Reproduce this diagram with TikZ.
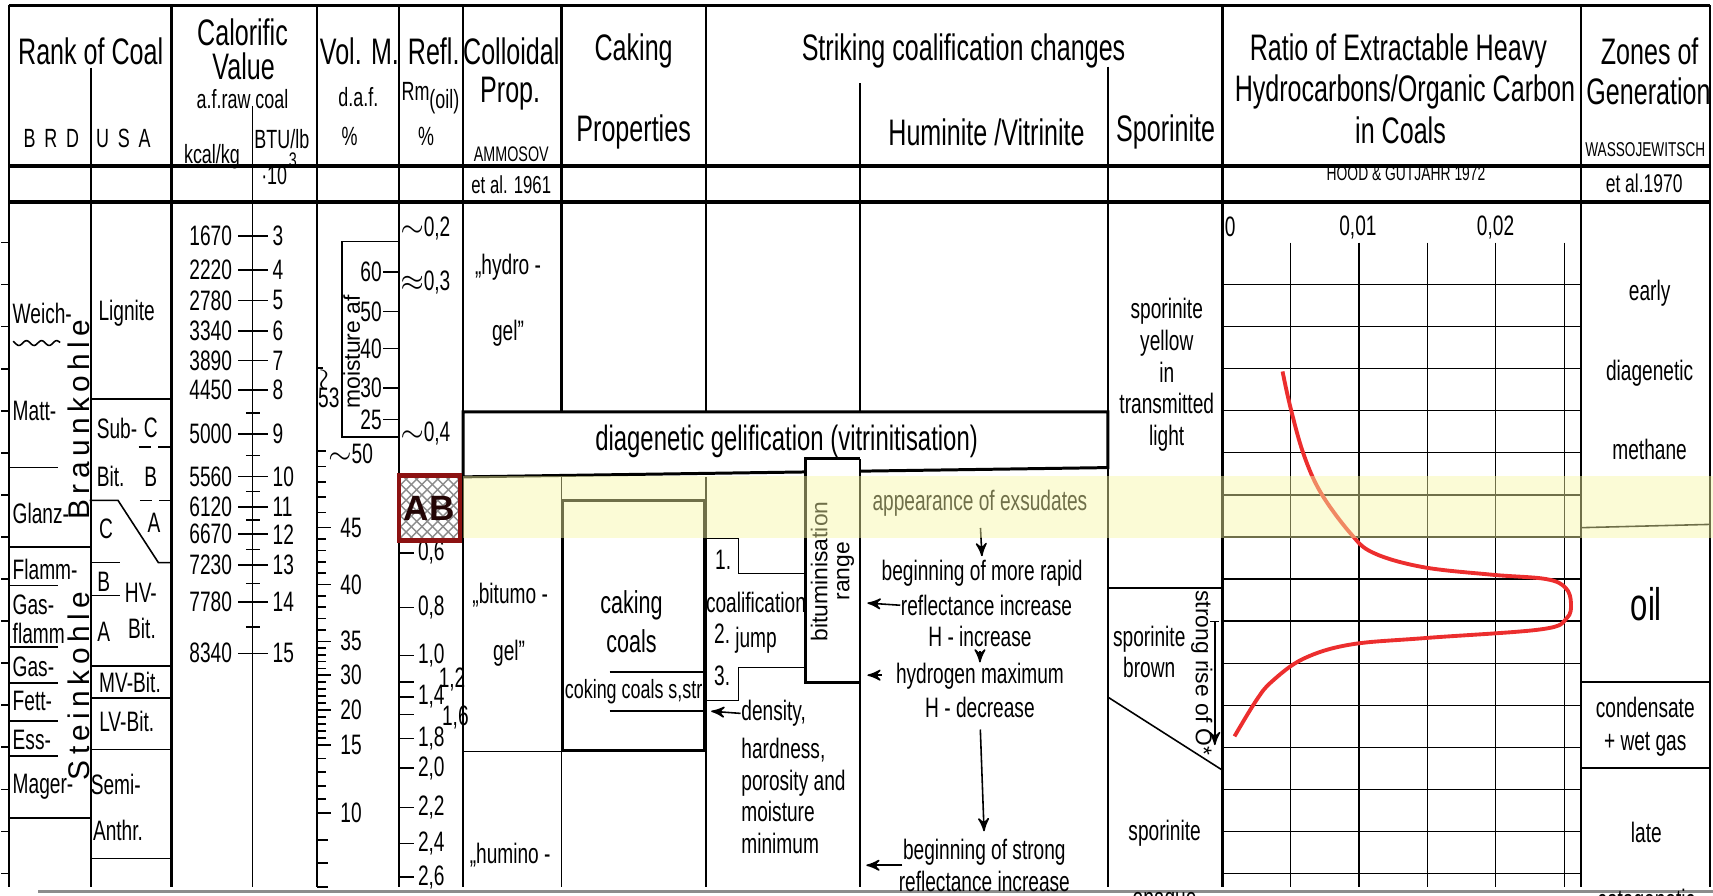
\documentclass[tikz,border=0pt]{standalone}
\usepackage{fontspec}
\setmainfont{Liberation Sans}[FakeStretch=0.68]
\newfontfamily\plainsf{Liberation Sans}
\newfontfamily\spacedsf{Liberation Sans}[LetterSpace=18]
\usetikzlibrary{arrows,positioning,patterns}

\definecolor{abred}{RGB}{140,18,18}
\definecolor{bandyellow}{RGB}{247,247,164}
\definecolor{curvered}{RGB}{236,46,46}

\begin{document}
\begin{tikzpicture}[x=0.10925mm, y=-0.10925mm, >=stealth',
    hdrtext/.style={font=\fontsize{10.5}{12}\selectfont, inner sep=0pt},
    bodytext/.style={font=\fontsize{8}{9}\selectfont, inner sep=0pt},
    smalltext/.style={font=\fontsize{7.5}{8}\selectfont, inner sep=0pt},
    tinytext/.style={font=\fontsize{6}{7}\selectfont, inner sep=0pt},
    rottext/.style={font=\plainsf\fontsize{6.5}{6.2}\selectfont, inner sep=0pt},
    frameline/.style={line width=1.1pt},
    colline/.style={line width=0.6pt},
    thinline/.style={line width=0.45pt},
    gridline/.style={line width=0.35pt},
    boxline/.style={line width=0.85pt},
    abbox/.style={draw=abred, line width=1.15pt, pattern=crosshatch, pattern color=black!45,
      minimum width=6.1mm, minimum height=6.5mm, inner sep=0pt,
      font=\plainsf\bfseries\fontsize{10}{10}\selectfont, text=black!75!abred}]

\useasboundingbox (0,0) rectangle (1568,820);

% boxes with white fill first
\draw[boxline, fill=white] (424,377) -- (1014,377) -- (1014,428) -- (424,436.5) -- cycle;
\draw[boxline, fill=white] (787,420) -- (737,420) -- (737,625) -- (787,625);
\draw[boxline] (515,458) rectangle (645,687);

% frame and columns
\draw[frameline] (8,5) -- (1565,5);
\draw[frameline] (8,152) -- (1565,152);
\draw[frameline] (8,185) -- (1565,185);
\foreach \xx in {8,157,290,365,424,1119,1447,1565}
  \draw[colline] (\xx,5) -- (\xx,812);
\draw[colline] (83,62) -- (83,812);
\draw[thinline] (231,97) -- (231,812);
\draw[colline] (514,5) -- (514,377) (646,5) -- (646,377) (787,76) -- (787,377) (1014,61) -- (1014,812);
\draw[thinline] (514,437) -- (514,812) (646,437) -- (646,812);
\draw[colline] (787,420) -- (787,812);
\foreach \k in {0,...,15}
  \draw[thinline] (1,{222+38.5*\k}) -- (8,{222+38.5*\k});
\draw[black!45, line width=0.9pt] (35,816) -- (1568,816);

% header
\node[hdrtext] (rank) at (83,47) {Rank of Coal};
\node[smalltext] (brd) at (47,127) {B\,\,R\,\,D};
\node[smalltext] (usa) at (113,127) {U\,\,S\,\,A};
\node[hdrtext] (calor) at (222,30) {Calorific};
\node[hdrtext] (value) at (223,61) {Value};
\node[smalltext] (afraw) at (222,91) {a.f.raw coal};
\node[smalltext] (kcal) at (194,143) {kcal/kg};
\node[smalltext] (btu) at (258,127) {BTU/lb};
\node[smalltext] (ten) at (251,161) {·10};
\node[tinytext] (three) at (268,147) {3};
\node[hdrtext] (volm) at (329,47) {Vol. M.};
\node[smalltext] (daf) at (328,89) {d.a.f.};
\node[smalltext] (pctv) at (320,125) {\%};
\node[hdrtext] (refl) at (397,47) {Refl.};
\node[smalltext] (rm) at (394,90) {Rm\raisebox{-0.6ex}{(oil)}};
\node[smalltext] (pctr) at (390,125) {\%};
\node[hdrtext] (colloid) at (468,47) {Colloidal};
\node[hdrtext] (prop) at (467,86) {Prop.};
\node[tinytext] (ammosov) at (468,141) {AMMOSOV};
\node[font=\fontsize{7}{8}\selectfont, inner sep=0pt] (etal61) at (468,169) {et al. 1961};
\node[hdrtext] (caking) at (580,47) {Caking};
\node[hdrtext] (props) at (580,121) {Properties};
\node[hdrtext] (striking) at (882,47) {Striking coalification changes};
\node[hdrtext] (humvit) at (903,121) {Huminite /Vitrinite};
\node[hdrtext] (spor) at (1067,121) {Sporinite};
\node[hdrtext] (ratioa) at (1280,47) {Ratio of Extractable Heavy};
\node[hdrtext] (ratiob) at (1286,84) {Hydrocarbons/Organic Carbon};
\node[hdrtext] (ratioc) at (1282,119) {in Coals};
\node[font=\fontsize{5.8}{6}\selectfont, inner sep=0pt] (hood) at (1287,159) {HOOD \& GUTJAHR 1972};
\node[hdrtext] (zones) at (1510,47) {Zones of};
\node[hdrtext] (gener) at (1509,84) {Generation};
\node[font=\fontsize{5.7}{6}\selectfont, inner sep=0pt] (wasso) at (1506,137) {WASSOJEWITSCH};
\node[font=\fontsize{7.3}{8}\selectfont, inner sep=0pt] (etal70) at (1505,168) {et al.1970};

% rank of coal, BRD
\node[bodytext, anchor=west] (weich) at (11,287) {Weich-};
\draw[thinline] plot[domain=12:55, samples=50] (\x,{314+2.2*sin(\x*26)});
\node[bodytext, anchor=west] (matt) at (11,376) {Matt-};
\draw[thinline] (8,428) -- (53,428);
\node[bodytext, anchor=west] (glanz) at (11,470) {Glanz-};
\draw[colline] (8,501) -- (83,501);
\node[bodytext, anchor=west] (flamma) at (11,521) {Flamm-};
\node[bodytext, anchor=west] (gasa) at (11,554) {Gas-};
\node[bodytext, anchor=west] (flammb) at (11,580) {flamm};
\node[bodytext, anchor=west] (gasb) at (11,610) {Gas-};
\node[bodytext, anchor=west] (fett) at (11,642) {Fett-};
\node[bodytext, anchor=west] (ess) at (11,677) {Ess-};
\node[bodytext, anchor=west] (mager) at (11,720) {Mager-};
\foreach \yy in {536,592,625,660,692}
  \draw[thinline] (8,\yy) -- (53,\yy);
\draw[colline] (8,749) -- (83,749);
\node[font=\spacedsf\fontsize{8.5}{9}\selectfont, rotate=90, inner sep=0pt] (braun) at (72,384) {Braunkohle};
\node[font=\spacedsf\fontsize{8.5}{9}\selectfont, rotate=90, inner sep=0pt] (stein) at (72,628) {Steinkohle};

% rank of coal, USA
\node[bodytext] (lignite) at (116,287) {Lignite};
\draw[thinline] (83,365) -- (157,365);
\node[bodytext, anchor=west] (sub) at (88,392) {Sub-};
\node[bodytext] (subc) at (138,392) {C};
\draw[thinline, dash pattern=on 3.5pt off 2pt] (127,409) -- (157,409);
\node[bodytext, anchor=west] (bita) at (88,436) {Bit.};
\node[bodytext] (bitb) at (138,436) {B};
\draw[thinline, dash pattern=on 3.5pt off 2pt] (128,458) -- (157,458);
\draw[thinline] (82,458) -- (108,458) -- (145,515) -- (157,515);
\node[bodytext] (hvc) at (97,484) {C};
\node[bodytext] (suba) at (141,479) {A};
\draw[thinline] (83,515) -- (110,515);
\node[bodytext] (hvb) at (95,533) {B};
\node[bodytext] (hv) at (129,543) {HV-};
\draw[thinline] (83,545) -- (110,545);
\node[bodytext] (hva) at (95,578) {A};
\node[bodytext] (hvbit) at (130,575) {Bit.};
\draw[colline] (83,610) -- (157,610);
\node[bodytext] (mv) at (119,625) {MV-Bit.};
\draw[thinline] (83,639) -- (157,639);
\node[bodytext] (lv) at (116,660) {LV-Bit.};
\draw[thinline] (83,686) -- (157,686);
\node[bodytext] (semi) at (106,718) {Semi-};
\node[bodytext] (anthr) at (108,760) {Anthr.};
\draw[thinline] (83,786) -- (157,786);

% calorific value scale
\foreach \kc/\bt/\yy in {1670/3/216, 2220/4/247, 2780/5/275, 3340/6/303, 3890/7/330, 4450/8/357,
    5000/9/397, 5560/10/436, 6120/11/464, 6670/12/489, 7230/13/517, 7780/14/551, 8340/15/598} {
  \draw[thinline] (218,\yy) -- (245,\yy);
  \node[bodytext, anchor=east] (kc\bt) at (213,\yy) {\kc};
  \node[bodytext, anchor=west] (bt\bt) at (249,\yy) {\bt};
}
\foreach \yy in {378,417,450,476,503,534,574}
  \draw[thinline] (225,\yy) -- (238,\yy);

% volatile matter scale
\draw[thinline] (290,337) -- (296,337);
\node[bodytext, rotate=90] (vtil) at (298,348) {$\sim$};
\node[bodytext] (v53) at (301,364) {53};
\draw[thinline] (290,413) -- (298,413);
\node[bodytext, anchor=west] (v50) at (300,415) {$\sim$50};
\foreach \vm/\yy in {45/483,40/535,35/587,30/618,20/650,15/682,10/744} {
  \draw[thinline] (290,\yy) -- (303,\yy);
  \node[bodytext, anchor=west] (vm\vm) at (311,\yy) {\vm};
}
\foreach \ya/\yb in {413/483,483/535,535/587,587/618,618/650,650/682,682/744}
  \foreach \k in {1,...,4}
    \draw[thinline] (290,{\ya+(\yb-\ya)*\k/5}) -- (298,{\ya+(\yb-\ya)*\k/5});
\foreach \yy in {769,790,812}
  \draw[thinline] (290,\yy) -- (300,\yy);

% moisture box
\draw[thinline] (364,221) -- (313,221) -- (313,400) -- (364,400);
\foreach \mv/\yy in {60/249,50/285,40/319,30/355,25/384} {
  \draw[thinline] (351,\yy) -- (364,\yy);
  \node[bodytext, anchor=east] (ms\mv) at (350,\yy) {\mv};
}
\node[font=\plainsf\fontsize{6.5}{7}\selectfont, inner sep=0pt, rotate=90] (moist) at (322,322) {moisture af};

% reflectance scale
\node[bodytext, anchor=west] (rtwo) at (366,209) {$\sim$0,2};
\node[bodytext, anchor=west] (rthree) at (366,259) {$\approx$0,3};
\node[bodytext, anchor=west] (rfour) at (366,397) {$\sim$0,4};
\foreach \yy/\rv in {506/{0,6}, 556/{0,8}, 600/{1,0}, 638/{1,4}, 676/{1,8}, 703/{2,0}, 739/{2,2}, 772/{2,4}, 803/{2,6}} {
  \draw[thinline] (365,\yy) -- (379,\yy);
  \node[bodytext, anchor=west] at (382,\yy) {\rv};
}
\draw[thinline] (365,624) -- (379,624) (365,654) -- (379,654);
\node[bodytext, anchor=west] (ronetwo) at (401,622) {1,2};
\node[bodytext, anchor=west] (ronesix) at (404,657) {1,6};

% colloidal properties
\node[bodytext] (hydro) at (465,245) {„hydro -};
\node[bodytext] (gela) at (465,305) {gel”};
\node[bodytext] (bitumo) at (467,545) {„bitumo -};
\node[bodytext] (gelb) at (466,598) {gel”};
\draw[thinline] (424,688) -- (514,688);
\node[bodytext] (humino) at (467,783) {„humino -};
\node[font=\fontsize{10}{12}\selectfont, inner sep=0pt] (gelif) at (720,404) {diagenetic gelification (vitrinitisation)};

% caking properties
\node[font=\fontsize{9}{11}\selectfont, inner sep=0pt, align=center] (cakcoals) at (578,569) {caking\\coals};
\draw[thinline] (558,615) -- (645,615) (558,651) -- (645,651);
\node[font=\fontsize{7.5}{8}\selectfont, inner sep=0pt] (coking) at (580,633) {coking coals s,str};

% coalification jump
\draw[thinline] (646,493) -- (676,493) -- (676,525) -- (737,525);
\draw[thinline] (737,611) -- (676,611) -- (676,641) -- (646,641);
\node[bodytext] (one) at (662,512) {1.};
\node[bodytext] (coalif) at (692,551) {coalification};
\node[bodytext] (two) at (661,580) {2.};
\node[bodytext] (jump) at (692,586) {jump};
\node[bodytext] (three) at (661,619) {3.};
\node[rottext, rotate=90, align=center] (bitrange) at (762,523) {bituminisation\\range};
\node[bodytext, anchor=west] (dens) at (678,653) {density,};
\node[bodytext, anchor=north west, align=left, font=\fontsize{8}{9}\selectfont] (hard) at (678,675) {hardness,\\porosity and\\moisture\\minimum};
\coordinate (densend) at (651,651);
\path[->, thinline] (dens.west) edge (densend);

% huminite / vitrinite
\node[bodytext] (appear) at (897,461) {appearance of exsudates};
\node[bodytext] (begmore) at (899,525) {beginning of more rapid};
\node[bodytext] (reflinc) at (903,554) {reflectance increase};
\node[bodytext] (hinc) at (897,583) {H - increase};
\node[bodytext] (hydmax) at (897,619) {hydrogen maximum};
\node[bodytext] (hdec) at (897,648) {H - decrease};
\node[bodytext] (begstrong) at (901,780) {beginning of strong};
\node[bodytext] (reflstrong) at (901,807) {reflectance increase};
\coordinate (ria) at (794,552);
\coordinate (hma) at (807,618);
\coordinate (hmb) at (794,618);
\coordinate (bsa) at (826,792);
\coordinate (bsb) at (793,792);
\path[->, thinline] (appear.south) edge[shorten <=3pt, shorten >=1pt] (begmore.north)
                    (hinc.south) edge[shorten <=1pt] (hydmax.north)
                    (hdec.south) edge[shorten <=3pt, shorten >=2pt] (begstrong.north)
                    (reflinc.west) edge (ria)
                    (hma) edge (hmb)
                    (bsa) edge (bsb);

% sporinite
\node[bodytext, align=center, font=\fontsize{8}{9}\selectfont] (sporyel) at (1068,343) {sporinite\\yellow\\in\\transmitted\\light};
\draw[thinline] (1014,538) -- (1119,538);
\node[bodytext, align=center, font=\fontsize{8}{8.7}\selectfont] (sporbr) at (1052,597) {sporinite\\brown};
\draw[thinline] (1014,638) -- (1119,705);
\node[rottext, rotate=-90] (strong) at (1100,616) {strong rise of O*};
\draw[thinline] (1108,569) -- (1116,569);
\coordinate (sra) at (1112,569);
\coordinate (srb) at (1112,682);
\path[->, thinline] (sra) edge (srb);
\node[bodytext] (spop) at (1066,763) {sporinite};
\node[bodytext] (opaque) at (1066,826) {opaque};

% ratio of extractable hydrocarbons
\foreach \xx in {1181,1244,1307,1369,1432}
  \draw[gridline] (\xx,222) -- (\xx,812);
\foreach \k in {0,...,14}
  \draw[gridline] (1119,{260.5+38.5*\k}) -- (1447,{260.5+38.5*\k});
\node[bodytext] (xzero) at (1126,208) {0};
\node[bodytext] (xone) at (1243,208) {0,01};
\node[bodytext] (xtwo) at (1369,208) {0,02};
\draw[curvered, line width=1.1pt] plot[smooth, tension=0.6] coordinates {(1174,340) (1181,372) (1193,415)
  (1209,451) (1236,488) (1257,506) (1302,519) (1365,526) (1415,530) (1433,538) (1438,552) (1434,566)
  (1411,576) (1305,584) (1236,590) (1193,603) (1164,624) (1150,641) (1130,674)};

% zones of generation
\node[bodytext, align=center, font=\fontsize{8}{22.6}\selectfont] (earlymeth) at (1510,339) {early\\diagenetic\\methane};
\draw[thinline] (1447,483) -- (1565,480);
\node[font=\fontsize{13}{14}\selectfont, inner sep=0pt] (oil) at (1507,553) {oil};
\draw[thinline] (1447,624) -- (1565,624);
\node[bodytext, align=center, font=\fontsize{8}{9.3}\selectfont] (conden) at (1506,665) {condensate\\+ wet gas};
\draw[thinline] (1447,703) -- (1565,703);
\node[bodytext] (late) at (1507,762) {late};
\node[bodytext] (catag) at (1507,826) {catagenetic};

% yellow band
\fill[bandyellow, fill opacity=0.45] (424,436) rectangle (1568,492);

\node[abbox] (ab) at (393,465) {AB};

\end{tikzpicture}
\end{document}
